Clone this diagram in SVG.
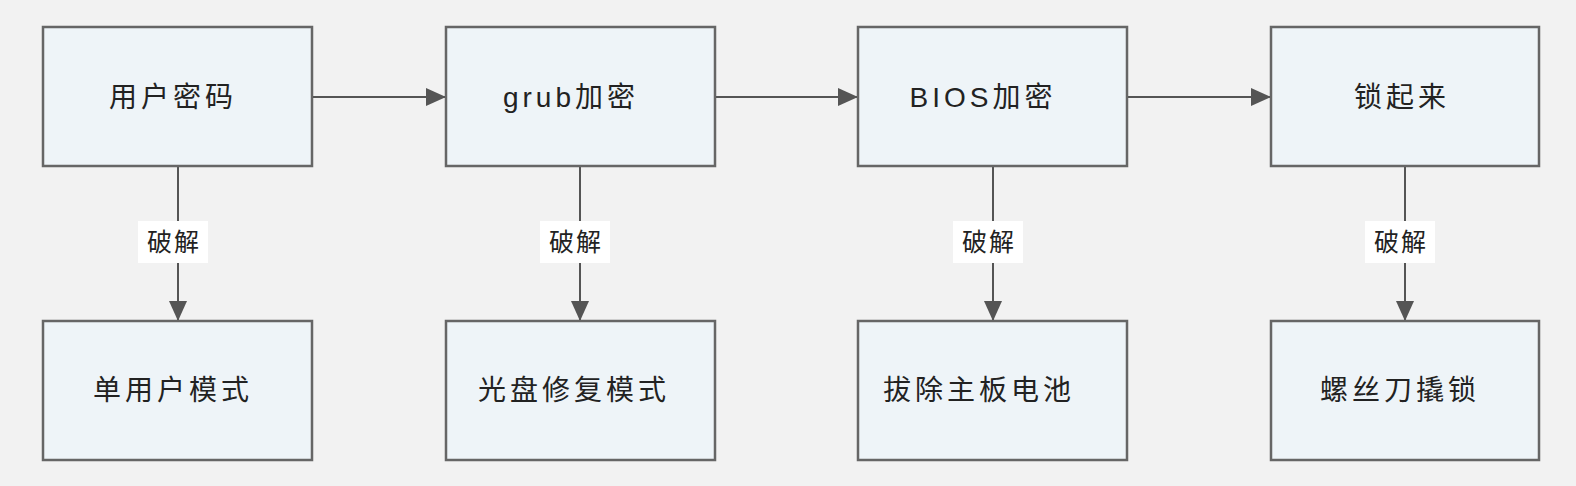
<svg xmlns="http://www.w3.org/2000/svg" width="1576" height="486" viewBox="0 0 1576 486">
<style>
.box{fill:#EEF4F8;stroke:#666;stroke-width:2.5}
.t{font-family:"Liberation Sans","Noto Sans CJK SC",sans-serif;font-size:28px;fill:#222;text-anchor:middle;dominant-baseline:central;letter-spacing:4px}
.l{font-family:"Liberation Sans","Noto Sans CJK SC",sans-serif;font-size:25px;fill:#222;text-anchor:middle;dominant-baseline:central;letter-spacing:2px}
.c{stroke:#555;stroke-width:2;fill:none}
</style>
<defs>
<marker id="ah2" markerWidth="20" markerHeight="18" refX="19" refY="9" orient="auto" markerUnits="userSpaceOnUse" viewBox="0 0 20 18">
<path d="M0,0 L20,9 L0,18 z" fill="#555"/>
</marker>
</defs>
<rect width="1576" height="486" fill="#F2F2F2"/>
<g id="connectors">
<line class="c" x1="313" y1="97" x2="445" y2="97" marker-end="url(#ah2)"/>
<line class="c" x1="716" y1="97" x2="857" y2="97" marker-end="url(#ah2)"/>
<line class="c" x1="1128" y1="97" x2="1270" y2="97" marker-end="url(#ah2)"/>
<line class="c" x1="178" y1="167" x2="178" y2="320" marker-end="url(#ah2)"/>
<line class="c" x1="580" y1="167" x2="580" y2="320" marker-end="url(#ah2)"/>
<line class="c" x1="993" y1="167" x2="993" y2="320" marker-end="url(#ah2)"/>
<line class="c" x1="1405" y1="167" x2="1405" y2="320" marker-end="url(#ah2)"/>
<rect x="138" y="221" width="70" height="42" fill="#fff"/>
<text class="l" x="174" y="242">破解</text>
<rect x="540" y="221" width="70" height="42" fill="#fff"/>
<text class="l" x="576" y="242">破解</text>
<rect x="953" y="221" width="70" height="42" fill="#fff"/>
<text class="l" x="989" y="242">破解</text>
<rect x="1365" y="221" width="70" height="42" fill="#fff"/>
<text class="l" x="1401" y="242">破解</text>
</g>
<g id="n1"><rect class="box" x="43" y="27" width="269" height="139"/><text class="t" x="173" y="97">用户密码</text></g>
<g id="n2"><rect class="box" x="446" y="27" width="269" height="139"/><text class="t" x="571" y="97">grub加密</text></g>
<g id="n3"><rect class="box" x="858" y="27" width="269" height="139"/><text class="t" x="983" y="97">BIOS加密</text></g>
<g id="n4"><rect class="box" x="1271" y="27" width="268" height="139"/><text class="t" x="1402" y="97">锁起来</text></g>
<g id="n5"><rect class="box" x="43" y="321" width="269" height="139"/><text class="t" x="173" y="390">单用户模式</text></g>
<g id="n6"><rect class="box" x="446" y="321" width="269" height="139"/><text class="t" x="574" y="390">光盘修复模式</text></g>
<g id="n7"><rect class="box" x="858" y="321" width="269" height="139"/><text class="t" x="979" y="390">拔除主板电池</text></g>
<g id="n8"><rect class="box" x="1271" y="321" width="268" height="139"/><text class="t" x="1400" y="390">螺丝刀撬锁</text></g>
</svg>
